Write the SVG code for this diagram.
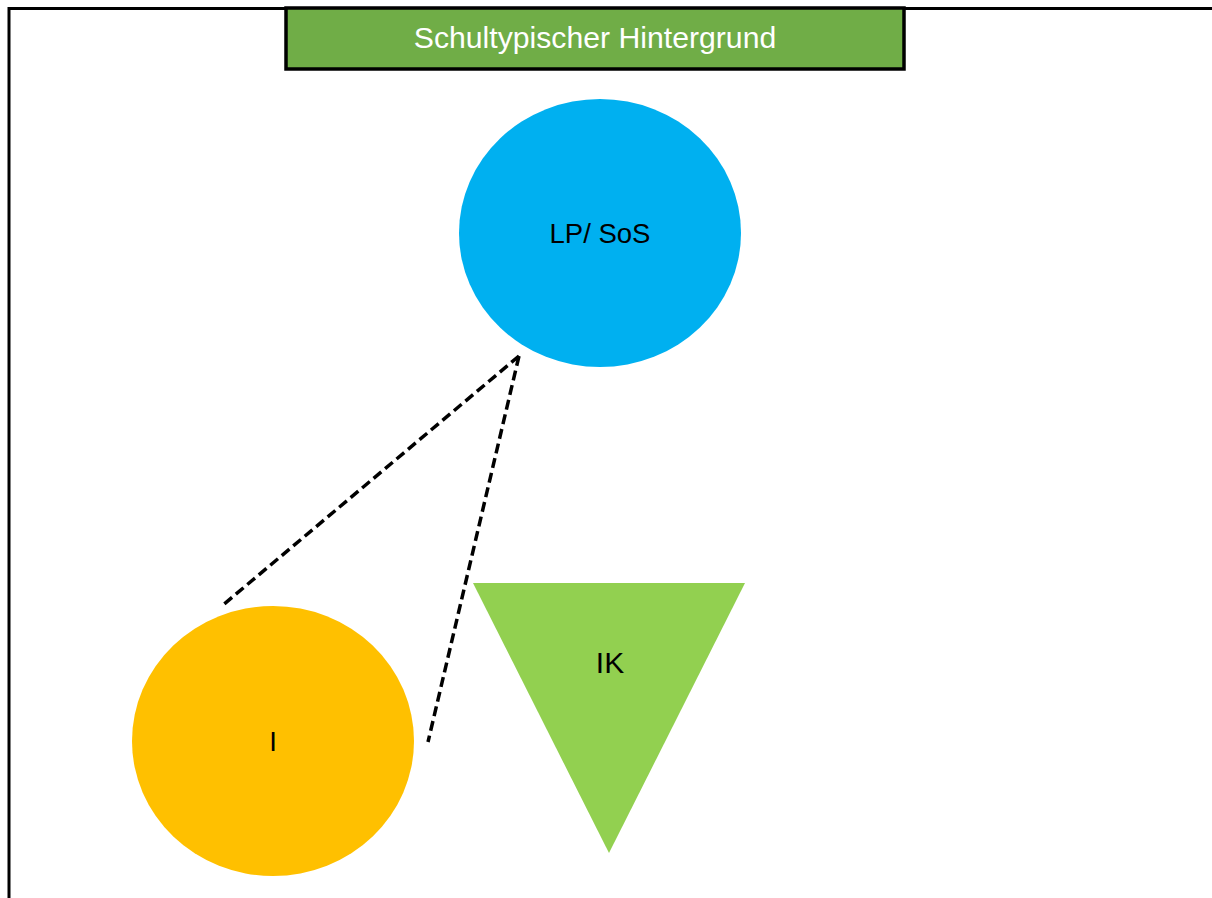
<svg xmlns="http://www.w3.org/2000/svg" width="1212" height="898" viewBox="0 0 1212 898">
<style>
text{font-family:"Liberation Sans",Arial,sans-serif;text-anchor:middle}
.lbl{fill:#000}
.conn{stroke:#000;stroke-width:3.5;stroke-dasharray:10,5;fill:none}
</style>
<rect width="1212" height="898" fill="#fff"/>
<g id="frame"><path d="M9 898 V8.5 H1212" fill="none" stroke="#000" stroke-width="3"/></g>
<g id="header">
<rect x="286" y="8" width="618" height="61" fill="#70AD47" stroke="#000" stroke-width="3.5"/>
<text x="595" y="48" fill="#fff" font-size="30.2">Schultypischer Hintergrund</text>
</g>
<g id="connectors">
<line class="conn" x1="519" y1="356" x2="223" y2="605"/>
<line class="conn" x1="519" y1="356" x2="428" y2="742"/>
</g>
<g id="lp-sos">
<ellipse cx="600" cy="233" rx="141" ry="134" fill="#00B0F0"/>
<text class="lbl" x="600" y="243" font-size="27.5">LP/ SoS</text>
</g>
<g id="i">
<ellipse cx="273" cy="741" rx="141" ry="135" fill="#FFC000"/>
<text class="lbl" x="273" y="751" font-size="27.5">I</text>
</g>
<g id="ik">
<polygon points="473,583 745,583 609,853" fill="#92D050"/>
<text class="lbl" x="610" y="673" font-size="30">IK</text>
</g>
</svg>
